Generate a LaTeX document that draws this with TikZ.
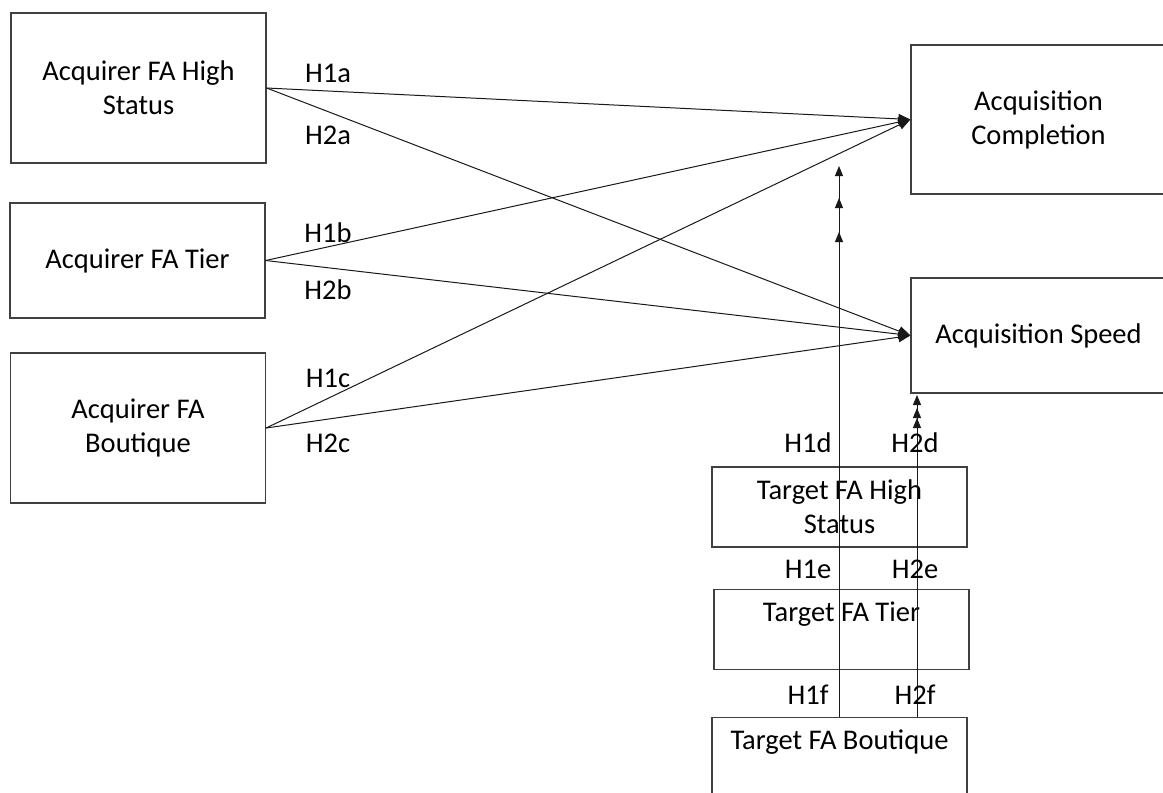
\documentclass[tikz,border=0pt]{standalone}
\usepackage{fontspec}
\setmainfont{Carlito}
\usetikzlibrary{arrows.meta,positioning}

\begin{document}
\begin{tikzpicture}[
  x=1pt, y=-1pt,
  font=\fontsize{28.5}{34}\selectfont,
  box/.style={draw=black!75,line width=1.2pt,align=center,minimum width=255pt,inner sep=0pt},
  topbox/.style={box,anchor=north,text height=32pt},
  hyp/.style={inner sep=0pt},
  arrow/.style={-{Triangle[length=12pt,width=10pt]}, line width=1pt, draw=black!90},
  uparrow/.style={arrow, -{Triangle[length=10pt,width=8pt]}}
]
\useasboundingbox (0,0) rectangle (1163,793);

% acquirer side
\node[box, minimum height=150pt] (aqhs) at (138.5,88) {Acquirer FA High\\Status};
\node[box, minimum height=115pt] (aqtier) at (137.5,260.5) {Acquirer FA Tier};
\node[box, minimum height=150pt] (aqbout) at (138,428) {Acquirer FA\\Boutique};

% outcomes
\node[box, minimum height=149pt] (comp) at (1038.5,119.5) {Acquisition\\Completion};
\node[box, minimum height=115pt] (speed) at (1038.5,335.5) {Acquisition Speed};

% target side
\node[box, minimum height=80pt] (tghs) at (839.5,507) {Target FA High\\Status};
\node[topbox, text depth=48pt] (tgtier) at (841.5,589) {Target FA Tier};
\node[topbox, text depth=100pt] (tgbout) at (839.5,717) {Target FA Boutique};

\draw[arrow] (aqhs.east) -- (comp.west);
\draw[arrow] (aqhs.east) -- (speed.west);
\draw[arrow] (aqtier.east) -- (comp.west);
\draw[arrow] (aqtier.east) -- (speed.west);
\draw[arrow] (aqbout.east) -- (comp.west);
\draw[arrow] (aqbout.east) -- (speed.west);

\coordinate (up1) at (839,232);
\coordinate (up2) at (839,198);
\coordinate (up3) at (839,166);
\coordinate (dn1) at (917,418);
\coordinate (dn2) at (917,408);
\coordinate (dn3) at (917,395);
\draw[uparrow] (tghs.north -| up1) -- (up1);
\draw[uparrow] (tgtier.north -| up2) -- (up2);
\draw[uparrow] (tgbout.north -| up3) -- (up3);
\draw[uparrow] (tghs.south -| dn1) -- (dn1);
\draw[uparrow] (tgtier.north -| dn2) -- (dn2);
\draw[uparrow] (tgbout.north -| dn3) -- (dn3);

% hypothesis labels
\node[hyp] (h1a) at (328,73) {H1a};
\node[hyp] (h2a) at (328,135) {H2a};
\node[hyp] (h1b) at (328,233) {H1b};
\node[hyp] (h2b) at (328,290) {H2b};
\node[hyp] (h1c) at (328,378) {H1c};
\node[hyp] (h2c) at (328,443) {H2c};
\node[hyp] (h1d) at (808,443) {H1d};
\node[hyp] (h2d) at (915,443) {H2d};
\node[hyp] (h1e) at (808,569) {H1e};
\node[hyp] (h2e) at (915,569) {H2e};
\node[hyp] (h1f) at (808,695) {H1f};
\node[hyp] (h2f) at (915,695) {H2f};
\end{tikzpicture}
\end{document}
